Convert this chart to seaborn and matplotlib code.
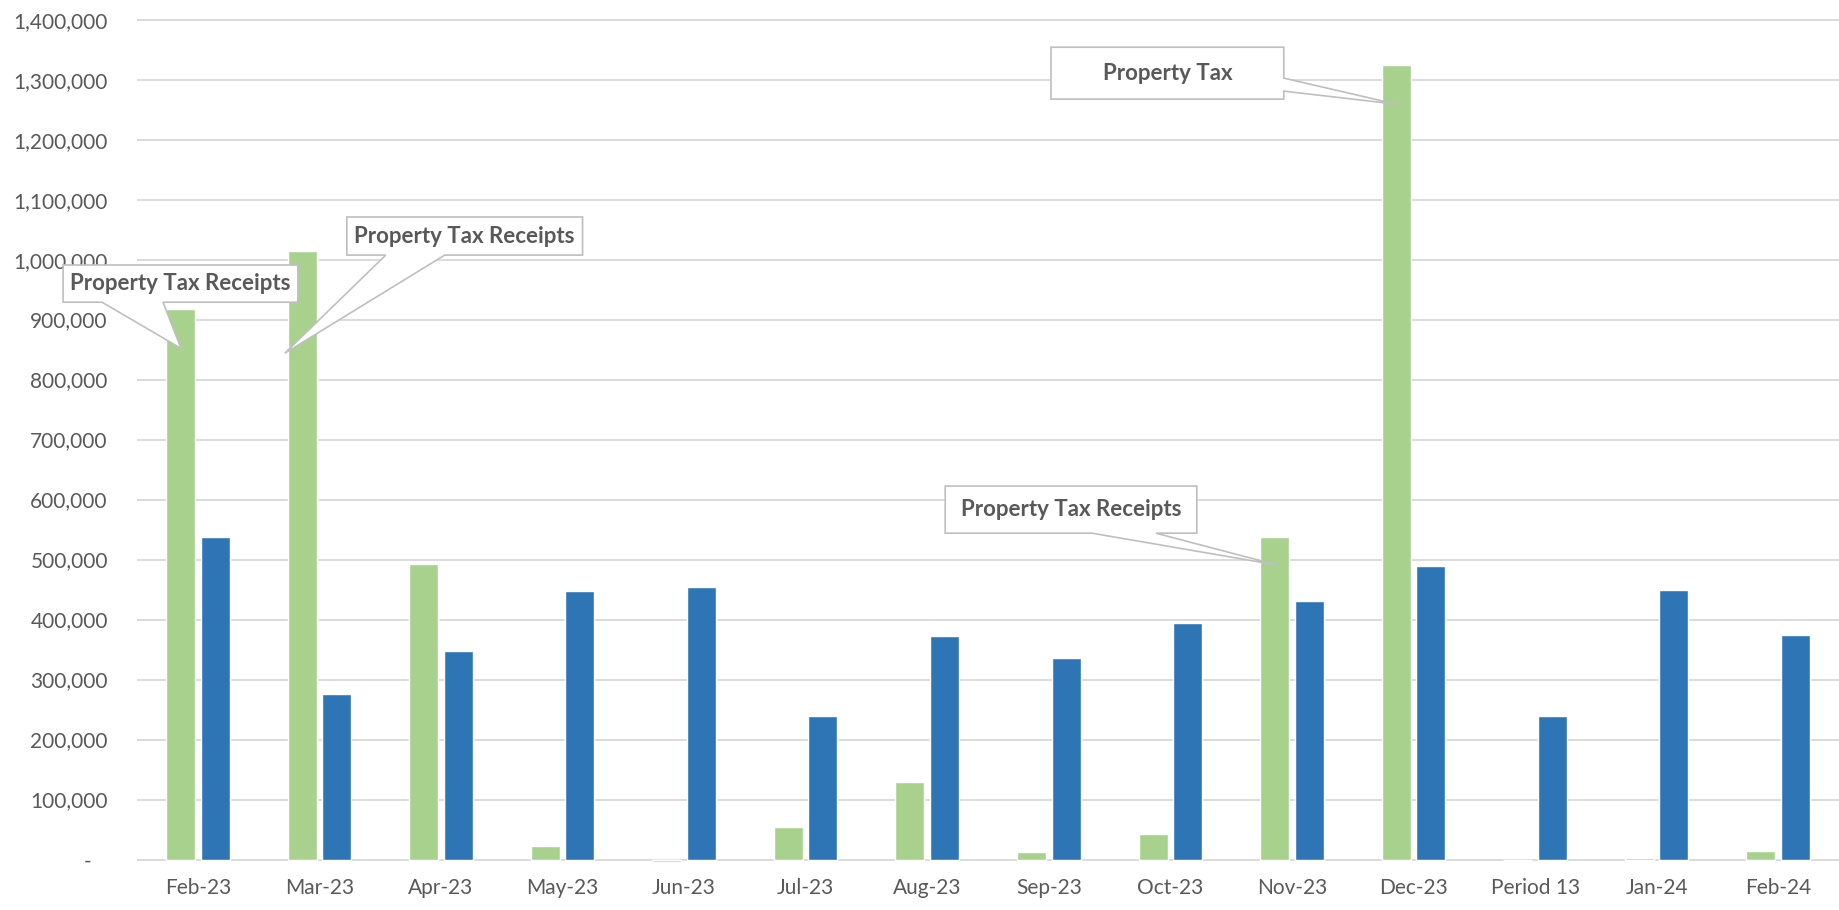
import numpy as np
import pandas as pd
import matplotlib
matplotlib.use("Agg")
import matplotlib.pyplot as plt
from matplotlib.patches import Polygon
from matplotlib.ticker import FuncFormatter, MultipleLocator
import seaborn as sns

# ---- data ----
months = ["Feb-23", "Mar-23", "Apr-23", "May-23", "Jun-23", "Jul-23", "Aug-23",
          "Sep-23", "Oct-23", "Nov-23", "Dec-23", "Period 13", "Jan-24", "Feb-24"]
property_tax = [917000, 1015000, 492000, 22000, -4000, 54000, 130000,
                13000, 43000, 537000, 1325000, 0, 2000, 15000]
other_receipts = [538000, 276000, 347000, 447000, 455000, 240000, 372000,
                  336000, 395000, 431000, 489000, 240000, 449000, 374000]
series_names = ["Property Tax", "Other Receipts"]

# callouts: box (x0, x1, y_bottom, y_top), edge carrying the tail, tail base, tip (category, offset, value)
callouts = [
    dict(text="Property Tax Receipts", box=(-1.108, 0.823, 929000, 991000),
         side="bottom", base=(-0.788, -0.286), tip=(0, -0.138, 852000)),
    dict(text="Property Tax Receipts", box=(1.226, 3.165, 1007500, 1071000),
         side="bottom", base=(1.546, 2.031), tip=(1, -0.284, 844000)),
    dict(text="Property Tax Receipts", box=(6.148, 8.218, 544000, 622500),
         side="bottom", base=(7.355, 7.881), tip=(9, -0.124, 491000)),
    dict(text="Property Tax", box=(7.018, 8.933, 1267500, 1354000),
         side="right", base=(1280800, 1302500), tip=(10, -0.139, 1259000)),
]

GREEN = "#A9D18E"
BLUE = "#2E75B6"
TEXT = "#595959"
GRID = "#D9D9D9"

df = pd.DataFrame({
    "month": months * 2,
    "value": property_tax + other_receipts,
    "series": [series_names[0]] * len(months) + [series_names[1]] * len(months),
})

sns.set_style("white")
plt.rcParams["font.family"] = ["Lato", "DejaVu Sans"]

fig = plt.figure(figsize=(18.39, 9.10), dpi=100)
ax = fig.add_axes([0.0745, 0.0515, 0.9255, 0.9276])

sns.barplot(data=df, x="month", y="value", hue="series", order=months,
            hue_order=series_names, palette=[GREEN, BLUE], saturation=1,
            width=0.569, gap=0.165, errorbar=None, legend=False, ax=ax)

ax.set_xlim(-0.5, len(months) - 0.5)
ax.set_ylim(-6000, 1401000)
ax.yaxis.set_major_locator(MultipleLocator(100000))
ax.yaxis.set_major_formatter(FuncFormatter(
    lambda v, p: "-   " if abs(v) < 1 else f"{v:,.0f}"))
ax.yaxis.grid(True, color=GRID, linewidth=1.3)
ax.set_axisbelow(True)
for s in ax.spines.values():
    s.set_visible(False)
ax.tick_params(axis="y", length=0, pad=21, labelsize=15, labelcolor=TEXT)
ax.tick_params(axis="x", length=0, pad=11, labelsize=15, labelcolor=TEXT)
ax.set_xlabel("")
ax.set_ylabel("")

# Excel-style wedge callouts
for c in callouts:
    x0, x1, yb, yt = c["box"]
    cat, dx, val = c["tip"]
    tip = (cat + dx, val)
    if c["side"] == "bottom":
        b1, b2 = c["base"]
        pts = [(x0, yt), (x1, yt), (x1, yb), (b2, yb), tip, (b1, yb), (x0, yb)]
    else:
        lo, hi = c["base"]
        pts = [(x0, yt), (x1, yt), (x1, hi), tip, (x1, lo), (x1, yb), (x0, yb)]
    ax.add_patch(Polygon(pts, closed=True, facecolor="white", edgecolor="#BFBFBF",
                         linewidth=1.2, zorder=5, clip_on=False))
    ax.text((x0 + x1) / 2, (yb + yt) / 2, c["text"], ha="center", va="center",
            fontsize=16, fontweight="bold", color=TEXT, zorder=6, clip_on=False)

fig.savefig("out.png", dpi=100)
